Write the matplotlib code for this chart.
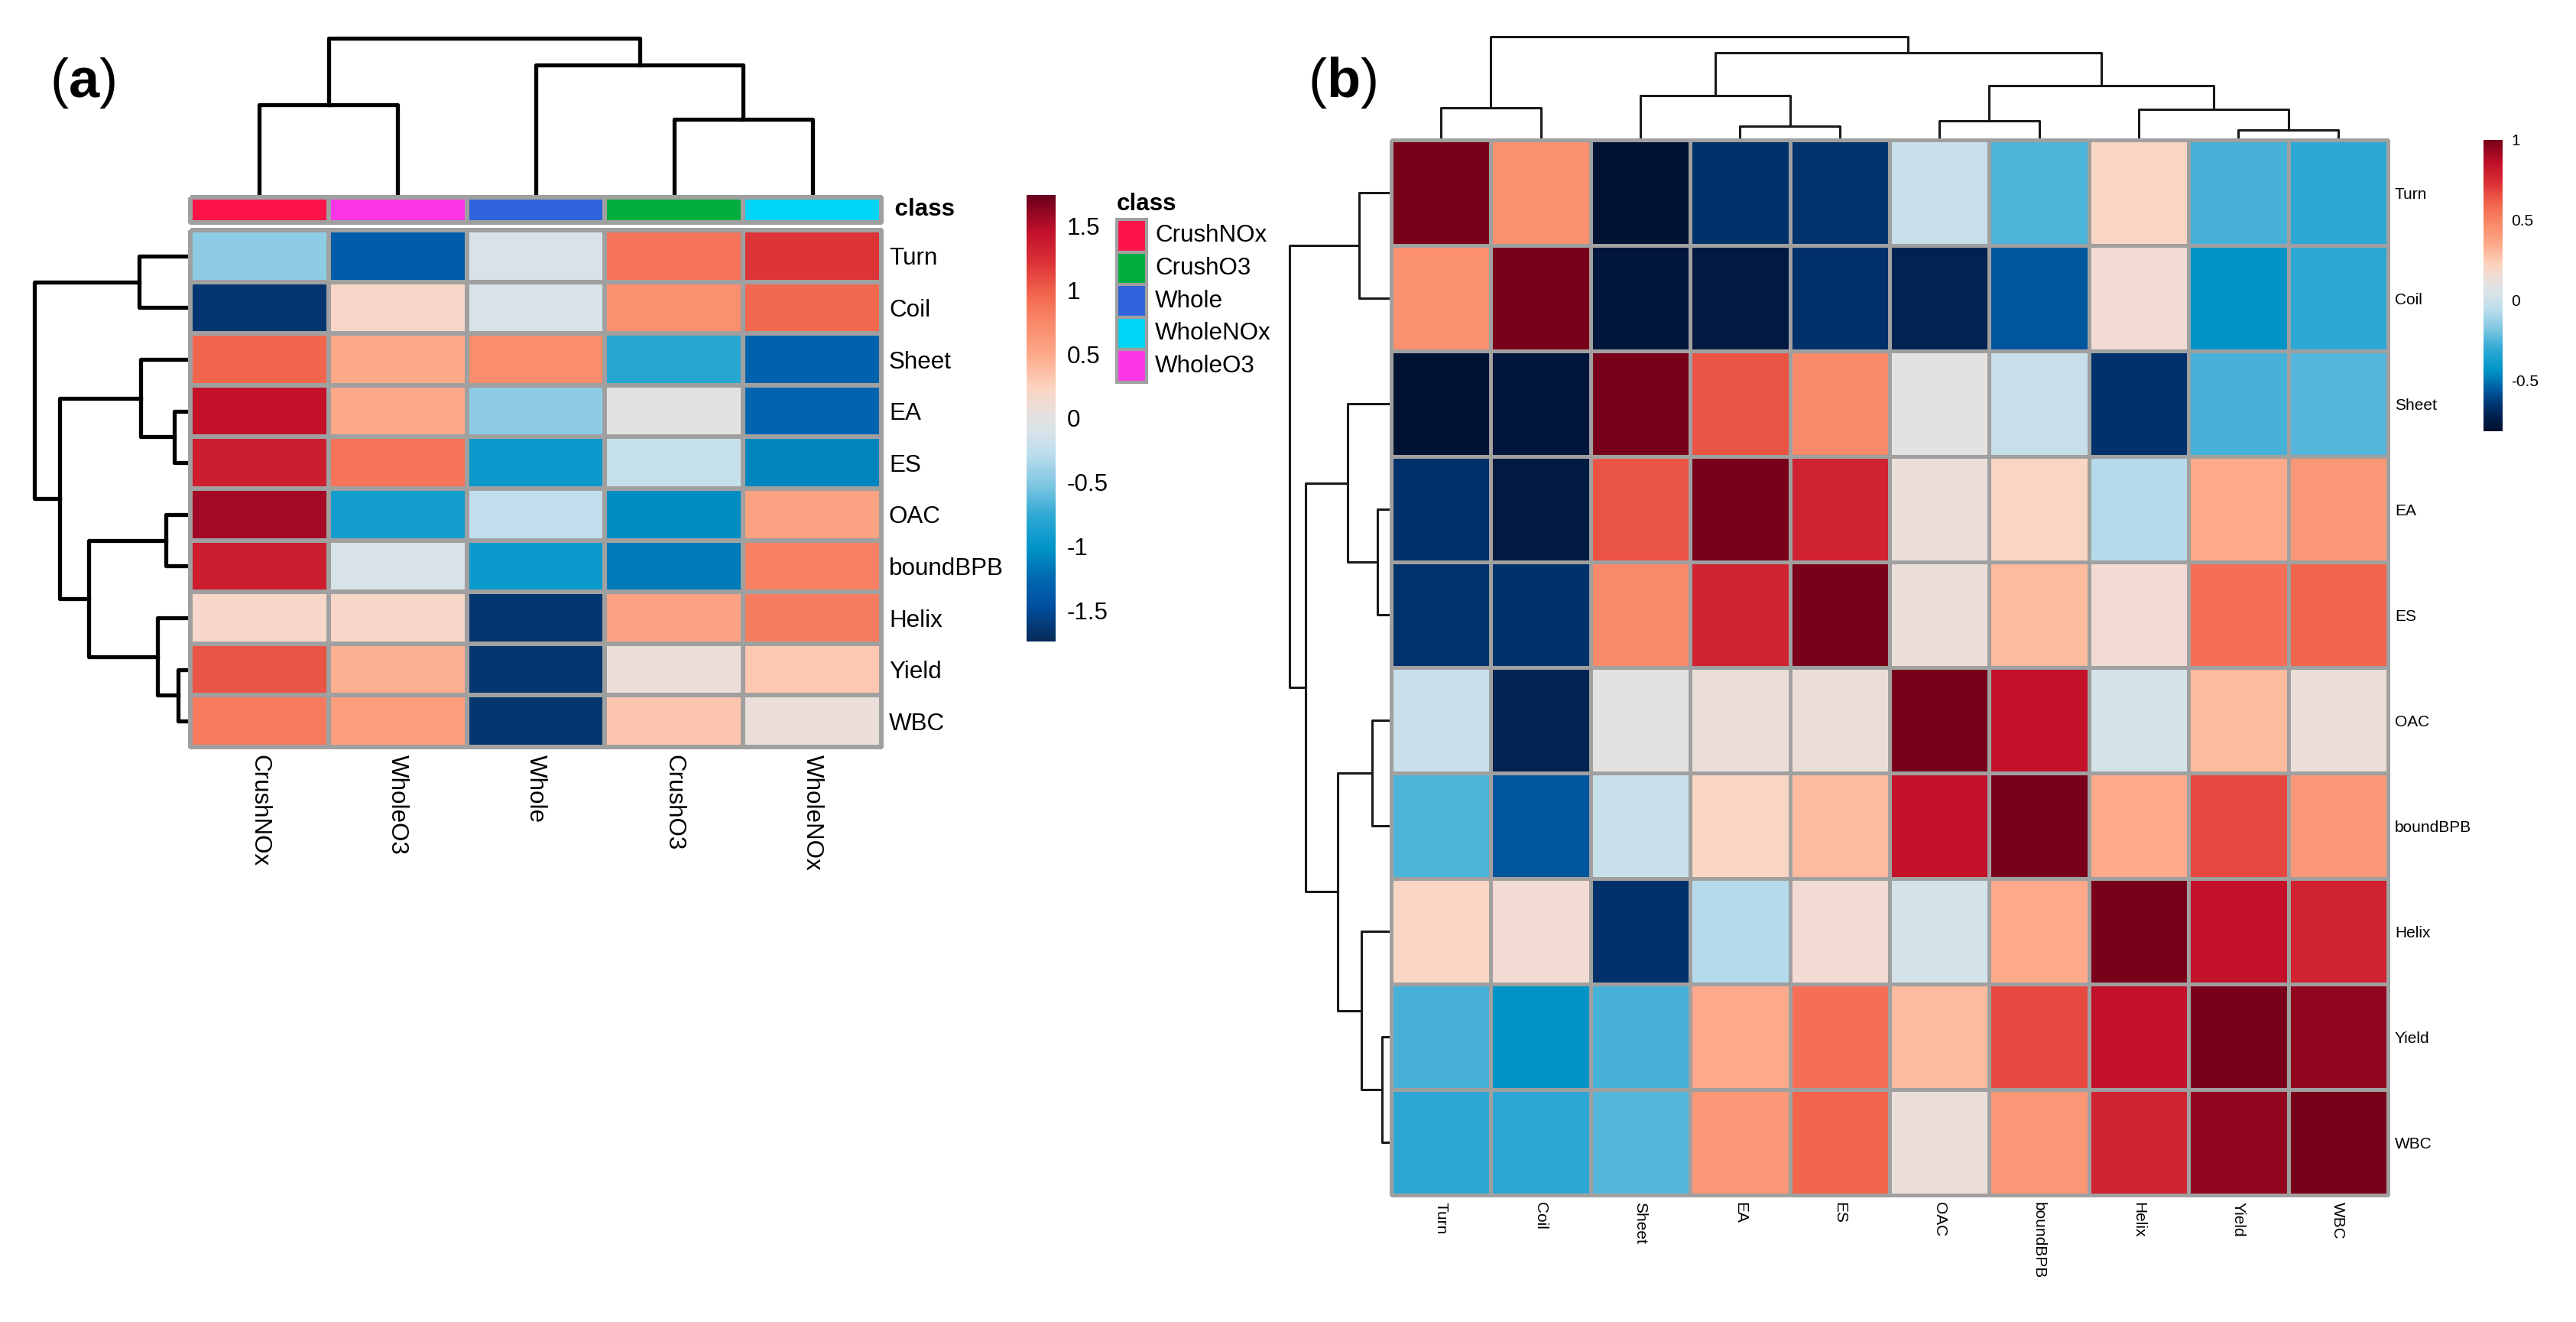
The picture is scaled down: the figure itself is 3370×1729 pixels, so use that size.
import numpy as np
import matplotlib
matplotlib.use("Agg")
import matplotlib.pyplot as plt
from matplotlib.colors import LinearSegmentedColormap, Normalize, ListedColormap
from matplotlib.cm import ScalarMappable
from matplotlib.patches import Rectangle

W, H, DPI = 3370, 1729, 200
plt.rcParams['font.family'] = ['Liberation Sans', 'DejaVu Sans']
plt.rcParams['axes.unicode_minus'] = False
plt.rcParams['mathtext.fontset'] = 'custom'
plt.rcParams['mathtext.rm'] = 'Liberation Sans'
plt.rcParams['mathtext.bf'] = 'Liberation Sans:bold'

# ---------------- data: panel (a) ----------------
a_rows = ["Turn", "Coil", "Sheet", "EA", "ES", "OAC", "boundBPB", "Helix", "Yield", "WBC"]
a_cols = ["CrushNOx", "WholeO3", "Whole", "CrushO3", "WholeNOx"]
a_vals = [
    [-0.45, -1.35, -0.10, 0.88, 1.20],
    [-1.65, 0.20, -0.10, 0.68, 0.95],
    [0.97, 0.50, 0.72, -0.80, -1.30],
    [1.45, 0.50, -0.45, 0.00, -1.27],
    [1.35, 0.88, -0.95, -0.22, -1.10],
    [1.55, -0.90, -0.25, -1.05, 0.55],
    [1.35, -0.10, -0.95, -1.15, 0.80],
    [0.18, 0.20, -1.65, 0.55, 0.82],
    [1.05, 0.45, -1.65, 0.08, 0.30],
    [0.84, 0.58, -1.65, 0.32, 0.08],
]
a_range = (-1.74, 1.74)
a_ticks = [-1.5, -1, -0.5, 0, 0.5, 1, 1.5]
a_ticklabels = ["-1.5", "-1", "-0.5", "0", "0.5", "1", "1.5"]
# class annotation
class_names = ["CrushNOx", "CrushO3", "Whole", "WholeNOx", "WholeO3"]
class_colors = ["#FC1348", "#00AE3E", "#2E63DC", "#00D5F5", "#FC36E6"]
a_col_class = ["CrushNOx", "WholeO3", "Whole", "CrushO3", "WholeNOx"]
# dendrograms (child_a, child_b, height); leaves indexed in display order
a_col_merges = [(0, 1, 118), (3, 4, 99), (2, 6, 170), (5, 7, 205)]
a_row_merges = [(0, 1, 65), (3, 4, 19), (2, 11, 63), (5, 6, 30), (8, 9, 14),
                (7, 14, 41), (13, 15, 131), (12, 16, 169), (10, 17, 201.5)]

# ---------------- data: panel (b) ----------------
b_labels = ["Turn", "Coil", "Sheet", "EA", "ES", "OAC", "boundBPB", "Helix", "Yield", "WBC"]
b_vals = [
    [1.00, 0.45, -0.80, -0.67, -0.66, -0.02, -0.26, 0.20, -0.27, -0.31],
    [0.45, 1.00, -0.78, -0.76, -0.67, -0.72, -0.57, 0.16, -0.44, -0.31],
    [-0.80, -0.78, 1.00, 0.64, 0.47, 0.09, -0.02, -0.67, -0.27, -0.25],
    [-0.67, -0.76, 0.64, 1.00, 0.78, 0.13, 0.20, -0.07, 0.34, 0.42],
    [-0.66, -0.67, 0.47, 0.78, 1.00, 0.13, 0.29, 0.16, 0.56, 0.60],
    [-0.02, -0.72, 0.09, 0.13, 0.13, 1.00, 0.85, 0.02, 0.29, 0.13],
    [-0.26, -0.57, -0.02, 0.20, 0.29, 0.85, 1.00, 0.34, 0.67, 0.42],
    [0.20, 0.16, -0.67, -0.07, 0.16, 0.02, 0.34, 1.00, 0.85, 0.78],
    [-0.27, -0.44, -0.27, 0.34, 0.56, 0.29, 0.67, 0.85, 1.00, 0.95],
    [-0.31, -0.31, -0.25, 0.42, 0.60, 0.13, 0.42, 0.78, 0.95, 1.00],
]
b_range = (-0.82, 1.0)
b_ticks = [-0.5, 0, 0.5, 1]
b_ticklabels = ["-0.5", "0", "0.5", "1"]
b_merges = [(0, 1, 40.2), (3, 4, 16), (2, 11, 55.8), (5, 6, 22.9), (8, 9, 10.3),
            (7, 14, 37.3), (13, 15, 68.8), (12, 16, 111.9), (10, 17, 133.2)]

# ---------------- colour maps ----------------
mid_anchors = [(0.21, "#0096C8"), (0.28, "#2EA8D4"), (0.35, "#7EC6E2"), (0.42, "#BCDDEC"),
               (0.47, "#D8E3E8"), (0.50, "#E2E2E2"), (0.53, "#EEDDD6"), (0.57, "#FCD3BF"),
               (0.64, "#FCAA8A"), (0.71, "#F98B6B"), (0.78, "#F2654D"), (0.85, "#DC3236"),
               (0.92, "#C2102A")]
cmap_a = LinearSegmentedColormap.from_list(
    "pa", [(0.0, "#072B5A"), (0.08, "#0050A0"), (0.14, "#0068B0")] + mid_anchors + [(1.0, "#6A001D")])
cmap_b = LinearSegmentedColormap.from_list(
    "pb", [(0.0, "#00102E"), (0.05, "#00204E"), (0.09, "#003570"), (0.14, "#0058A0")]
    + mid_anchors + [(1.0, "#780019")])

fig = plt.figure(figsize=(W / DPI, H / DPI), dpi=DPI)


def axpx(x0, y0, x1, y1):
    return fig.add_axes([x0 / W, 1 - y1 / H, (x1 - x0) / W, (y1 - y0) / H])


def clean(ax):
    for s in ax.spines.values():
        s.set_visible(False)
    ax.set_xticks([])
    ax.set_yticks([])
    ax.patch.set_alpha(0)


def draw_dendro(ax, merges, n, orient, lw, color):
    pos = {i: i + 0.5 for i in range(n)}
    hgt = {i: 0.0 for i in range(n)}
    for k, (a, b, h) in enumerate(merges):
        xs = [pos[a], pos[a], pos[b], pos[b]]
        ys = [hgt[a], h, h, hgt[b]]
        if orient == "top":
            ax.plot(xs, ys, color=color, lw=lw, clip_on=False, solid_capstyle="projecting")
        else:
            ax.plot(ys, xs, color=color, lw=lw, clip_on=False, solid_capstyle="projecting")
        pos[n + k] = (pos[a] + pos[b]) / 2
        hgt[n + k] = h
    mx = max(m[2] for m in merges)
    if orient == "top":
        ax.set_xlim(0, n)
        ax.set_ylim(0, mx)
    else:
        ax.set_xlim(mx, 0)
        ax.set_ylim(n, 0)
    clean(ax)


def heat(ax, data, cmap, norm, lw):
    data = np.asarray(data)
    m = ax.pcolormesh(data, cmap=cmap, norm=norm, edgecolors="#A0A0A0", linewidth=lw)
    m.set_clip_on(False)
    ax.set_xlim(0, data.shape[1])
    ax.set_ylim(data.shape[0], 0)
    for s in ax.spines.values():
        s.set_visible(False)


# ================= panel (a) =================
norm_a = Normalize(*a_range)
ax_cd = axpx(249, 50, 1153, 255)
draw_dendro(ax_cd, a_col_merges, len(a_cols), "top", 1.9, "black")
ax_rd = axpx(45.5, 301, 247, 977)
draw_dendro(ax_rd, a_row_merges, len(a_rows), "left", 1.9, "black")

ax_cls = axpx(249, 258, 1153, 291)
cls_idx = np.array([[class_names.index(c) for c in a_col_class]])
mcls = ax_cls.pcolormesh(cls_idx, cmap=ListedColormap(class_colors), vmin=-0.5,
                         vmax=len(class_names) - 0.5, edgecolors="#A0A0A0", linewidth=1.5)
mcls.set_clip_on(False)
ax_cls.set_xlim(0, len(a_cols))
ax_cls.set_ylim(1, 0)
clean(ax_cls)
ax_cls.text(1.0, 0.5, "  class", transform=ax_cls.transAxes, ha="left", va="center",
            fontsize=11.3, fontweight="bold")

ax_ha = axpx(249, 301, 1153, 977)
heat(ax_ha, a_vals, cmap_a, norm_a, 1.5)
ax_ha.set_yticks(np.arange(len(a_rows)) + 0.5)
ax_ha.set_yticklabels(a_rows, fontsize=11.3)
ax_ha.yaxis.tick_right()
ax_ha.set_xticks(np.arange(len(a_cols)) + 0.5)
ax_ha.set_xticklabels(a_cols, fontsize=11.3, rotation=270)
ax_ha.tick_params(length=0, pad=3.6)

cax_a = axpx(1343, 255, 1381, 839)
cb = fig.colorbar(ScalarMappable(norm=norm_a, cmap=cmap_a), cax=cax_a)
cb.outline.set_visible(False)
cb.set_ticks(a_ticks)
cb.set_ticklabels(a_ticklabels)
cax_a.tick_params(length=0, pad=5.4, labelsize=11.3)

# legend for class
ax_lg = axpx(1455, 245, 1700, 520)
ax_lg.set_xlim(1455, 1700)
ax_lg.set_ylim(520, 245)
clean(ax_lg)
ax_lg.text(1461, 267, "class", ha="left", va="center", fontsize=11.3, fontweight="bold")
ph = 42.6
for i, (nm, col) in enumerate(zip(class_names, class_colors)):
    y0 = 287 + i * ph
    ax_lg.add_patch(Rectangle((1461, y0), 39, ph, facecolor=col, edgecolor="#A0A0A0", lw=1.5))
    ax_lg.text(1511, y0 + ph / 2, nm, ha="left", va="center", fontsize=11.3)

fig.text(108 / W, 1 - 108 / H, r"($\mathbf{a}$)", ha="center", va="center", fontsize=26)

# ================= panel (b) =================
norm_b = Normalize(*b_range)
ax_bcd = axpx(1820, 47.6, 3124, 180.8)
draw_dendro(ax_bcd, b_merges, len(b_labels), "top", 1.1, "#1a1a1a")
ax_brd = axpx(1687, 183, 1818, 1563)
draw_dendro(ax_brd, b_merges, len(b_labels), "left", 1.1, "#1a1a1a")

ax_hb = axpx(1820, 183, 3124, 1563)
heat(ax_hb, b_vals, cmap_b, norm_b, 1.1)
ax_hb.set_yticks(np.arange(len(b_labels)) + 0.5)
ax_hb.set_yticklabels(b_labels, fontsize=7.5)
ax_hb.yaxis.tick_right()
ax_hb.set_xticks(np.arange(len(b_labels)) + 0.5)
ax_hb.set_xticklabels(b_labels, fontsize=7.5, rotation=270)
ax_hb.tick_params(length=0, pad=3.2)

cax_b = axpx(3249, 183, 3274, 564)
cb2 = fig.colorbar(ScalarMappable(norm=norm_b, cmap=cmap_b), cax=cax_b)
cb2.outline.set_visible(False)
cb2.set_ticks(b_ticks)
cb2.set_ticklabels(b_ticklabels)
cax_b.tick_params(length=0, pad=4, labelsize=7.5)

fig.text(1756 / W, 1 - 108 / H, r"($\mathbf{b}$)", ha="center", va="center", fontsize=26)

fig.savefig("out.png", dpi=DPI, facecolor="white")
